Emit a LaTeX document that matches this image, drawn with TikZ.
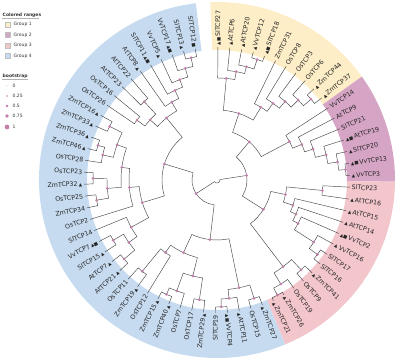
\documentclass[tikz,border=0pt]{standalone}
\usepackage{fontspec}
\setmainfont{DejaVu Sans}
\pgfdeclarelayer{fg}
\pgfsetlayers{main,fg}
\definecolor{gA}{RGB}{253,238,199}
\definecolor{gB}{RGB}{214,164,196}
\definecolor{gC}{RGB}{243,198,204}
\definecolor{gD}{RGB}{199,219,240}
\definecolor{bsc}{RGB}{196,128,170}
\definecolor{brc}{RGB}{70,70,70}
\tikzset{
  br/.style={draw=brc,line width=0.45pt},
  bs/.style={fill=bsc},
  lbl/.style={font=\fontsize{6.3}{7}\selectfont, inner sep=0.3pt, text=black!85},
  leg/.style={font=\fontsize{4.5}{5}\selectfont, inner sep=0.5pt, text=black!80},
}
\newcommand\mk[1]{{\fontsize{4.4}{5}\selectfont #1}}
\def\rl{134.5}
\newcommand\ed[4]{\pgfmathsetmacro\tA{89.6-#1*5.15}\pgfmathsetmacro\tB{89.6-#4*5.15}%
  \draw[br] (\tA:#2pt) -- (\tA:#3pt) arc[start angle=\tA, end angle=\tB, radius=#3pt];}
\newcommand\edn[4]{\ed{#1}{#2}{#3}{#4}\begin{pgfonlayer}{fg}\fill[bs] (\tA:#2pt) circle[radius=1.5pt];\end{pgfonlayer}}
\newcommand\lf[3]{\ed{#1}{133}{#2}{#3}}
\newcommand\lab[3]{\pgfmathsetmacro\tA{89.6-#1*5.15}%
  \ifdim\tA pt>-90pt
    \node[lbl,anchor=west,rotate=\tA] (l#1) at (\tA:\rl pt) {\ifx&#2&\else\mk{#2}\,\fi#3};%
  \else
    \pgfmathsetmacro\tB{\tA+180}%
    \node[lbl,anchor=east,rotate=\tB] (l#1) at (\tA:\rl pt) {#3\ifx&#2&\else\,\mk{#2}\fi};%
  \fi}
\newcommand\band[3]{\pgfmathsetmacro\tA{89.6-(#1-0.5)*5.15}\pgfmathsetmacro\tB{89.6-(#2+0.5)*5.15}%
  \fill[#3] (\tA:130pt) arc[start angle=\tA,end angle=\tB,radius=130pt] -- (\tB:178pt) arc[start angle=\tB,end angle=\tA,radius=178pt] -- cycle;}
\begin{document}
\begin{tikzpicture}[x=1pt,y=1pt]
\useasboundingbox (-217,-182) rectangle (183,180);
% colored ranges
\band{0}{10}{gA}
\band{11}{17}{gB}
\band{18}{30}{gC}
\band{31}{68}{gD}
% internal branches
\edn{15.70}{30}{3}{30.8}
\edn{45.9}{25}{3}{30.8}
\edn{7.719}{50}{30}{15.70}
\edn{23.68}{55}{30}{15.70}
\edn{3.453}{70}{50}{7.719}
\edn{11.984}{82}{50}{7.719}
\edn{0.9375}{102}{70}{3.453}
\edn{1.875}{110}{102}{0.9375}
\edn{2.75}{117}{110}{1.875}
\edn{3.5}{127}{117}{2.75}
\edn{5.96875}{85}{70}{3.453}
\edn{6.9375}{95}{85}{5.96875}
\edn{7.875}{104}{95}{6.9375}
\edn{8.75}{114}{104}{7.875}
\edn{9.5}{124}{114}{8.75}
\edn{12.96875}{92}{82}{11.984}
\edn{13.9375}{101}{92}{12.96875}
\edn{14.875}{112}{101}{13.9375}
\edn{15.75}{122}{112}{14.875}
\edn{16.5}{129}{122}{15.75}
\edn{19.73}{70}{55}{23.68}
\edn{18.5}{106}{70}{19.73}
\edn{20.97}{80}{70}{19.73}
\edn{21.9375}{86}{80}{20.97}
\edn{22.875}{92}{86}{21.9375}
\edn{23.75}{115}{92}{22.875}
\edn{24.5}{125}{115}{23.75}
\edn{27.625}{109}{55}{23.68}
\edn{26.5}{123}{109}{27.625}
\edn{28.75}{122}{109}{27.625}
\edn{29.5}{130}{122}{28.75}
\edn{36.156}{60}{25}{45.9}
\edn{32.625}{110}{60}{36.156}
\edn{31.5}{124}{110}{32.625}
\edn{33.75}{119}{110}{32.625}
\edn{34.5}{127}{119}{33.75}
\edn{39.6875}{80}{60}{36.156}
\edn{37.625}{99}{80}{39.6875}
\edn{36.5}{121}{99}{37.625}
\edn{38.75}{118}{99}{37.625}
\edn{39.5}{125}{118}{38.75}
\edn{41.75}{89}{80}{39.6875}
\edn{42.5}{118}{89}{41.75}
\edn{55.65}{55}{25}{45.9}
\edn{49.078}{78}{55}{55.65}
\edn{46.75}{98}{78}{49.078}
\edn{45.5}{108}{98}{46.75}
\edn{44.5}{122}{108}{45.5}
\edn{46.5}{120}{108}{45.5}
\edn{51.406}{88}{78}{49.078}
\edn{53.8125}{96}{88}{51.406}
\edn{51.5}{110}{96}{53.8125}
\edn{50.5}{122}{110}{51.5}
\edn{52.5}{124}{110}{51.5}
\edn{56.125}{106}{96}{53.8125}
\edn{54.75}{117}{106}{56.125}
\edn{55.5}{124}{117}{54.75}
\edn{57.5}{120}{106}{56.125}
\edn{62.23}{80}{55}{55.65}
\edn{60.5}{90}{80}{62.23}
\edn{59.5}{100}{90}{60.5}
\edn{61.5}{107}{90}{60.5}
\edn{63.97}{90}{80}{62.23}
\edn{64.94}{99}{90}{63.97}
\edn{65.875}{107}{99}{64.94}
\edn{66.75}{116}{107}{65.875}
\edn{67.5}{125}{116}{66.75}
% leaves
\lf{0}{102}{0.9375}\lf{1}{110}{1.875}\lf{2}{117}{2.75}\lf{3}{127}{3.5}\lf{4}{127}{3.5}
\lf{5}{85}{5.96875}\lf{6}{95}{6.9375}\lf{7}{104}{7.875}\lf{8}{114}{8.75}\lf{9}{124}{9.5}\lf{10}{124}{9.5}
\lf{11}{82}{11.984}\lf{12}{92}{12.96875}\lf{13}{101}{13.9375}\lf{14}{112}{14.875}\lf{15}{122}{15.75}\lf{16}{129}{16.5}\lf{17}{129}{16.5}
\lf{18}{106}{18.5}\lf{19}{106}{18.5}\lf{20}{80}{20.97}\lf{21}{86}{21.9375}\lf{22}{92}{22.875}\lf{23}{115}{23.75}
\lf{24}{125}{24.5}\lf{25}{125}{24.5}\lf{26}{123}{26.5}\lf{27}{123}{26.5}\lf{28}{122}{28.75}\lf{29}{130}{29.5}\lf{30}{130}{29.5}
\lf{31}{124}{31.5}\lf{32}{124}{31.5}\lf{33}{119}{33.75}\lf{34}{127}{34.5}\lf{35}{127}{34.5}
\lf{36}{121}{36.5}\lf{37}{121}{36.5}\lf{38}{118}{38.75}\lf{39}{125}{39.5}\lf{40}{125}{39.5}
\lf{41}{89}{41.75}\lf{42}{118}{42.5}\lf{43}{118}{42.5}
\lf{44}{122}{44.5}\lf{45}{122}{44.5}\lf{46}{120}{46.5}\lf{47}{120}{46.5}\lf{48}{98}{46.75}
\lf{49}{88}{51.406}\lf{50}{122}{50.5}\lf{51}{122}{50.5}\lf{52}{124}{52.5}\lf{53}{124}{52.5}
\lf{54}{117}{54.75}\lf{55}{124}{55.5}\lf{56}{124}{55.5}\lf{57}{120}{57.5}\lf{58}{120}{57.5}
\lf{59}{100}{59.5}\lf{60}{100}{59.5}\lf{61}{107}{61.5}\lf{62}{107}{61.5}
\lf{63}{90}{63.97}\lf{64}{99}{64.94}\lf{65}{107}{65.875}\lf{66}{116}{66.75}\lf{67}{125}{67.5}\lf{68}{125}{67.5}
% labels
\lab{0}{▲■}{SlTCP27}
\lab{1}{▲}{AtTCP6}
\lab{2}{▲}{AtTCP20}
\lab{3}{▲}{VvTCP12}
\lab{4}{▲■}{SlTCP18}
\lab{5}{}{ZmTCP31}
\lab{6}{}{OsTCP8}
\lab{7}{}{OsTCP3}
\lab{8}{}{OsTCP6}
\lab{9}{▲}{ZmTCP44}
\lab{10}{▲}{ZmTCP37}
\lab{11}{}{VvTCP14}
\lab{12}{}{AtTCP9}
\lab{13}{}{SlTCP21}
\lab{14}{▲■}{AtTCP19}
\lab{15}{▲}{SlTCP20}
\lab{16}{▲■}{VvTCP13}
\lab{17}{▲}{VvTCP3}
\lab{18}{}{SlTCP23}
\lab{19}{▲}{AtTCP16}
\lab{20}{▲}{AtTCP15}
\lab{21}{▲}{AtTCP14}
\lab{22}{▲■}{VvTCP2}
\lab{23}{▲}{VvTCP16}
\lab{24}{}{SlTCP17}
\lab{25}{}{SlTCP16}
\lab{26}{▲}{ZmTCP41}
\lab{27}{}{OsTCP9}
\lab{28}{}{OsTCP19}
\lab{29}{▲}{ZmTCP26}
\lab{30}{▲}{ZmTCP21}
\lab{31}{▲}{ZmTCP27}
\lab{32}{}{OsTCP15}
\lab{33}{▲}{AtTCP11}
\lab{34}{▲■}{VvTCP4}
\lab{35}{}{SlTCP19}
\lab{36}{▲}{ZmTCP29}
\lab{37}{}{OsTCP17}
\lab{38}{}{OsTCP7}
\lab{39}{▲}{ZmTCP40}
\lab{40}{▲}{ZmTCP15}
\lab{41}{}{OsTCP12}
\lab{42}{▲}{ZmTCP19}
\lab{43}{}{OsTCP11}
\lab{44}{▲}{AtTCP21}
\lab{45}{▲}{AtTCP7}
\lab{46}{▲}{SlTCP15}
\lab{47}{▲■}{VvTCP7}
\lab{48}{}{SlTCP14}
\lab{49}{}{OsTCP2}
\lab{50}{}{ZmTCP34}
\lab{51}{}{OsTCP25}
\lab{52}{▲}{ZmTCP32}
\lab{53}{}{OsTCP23}
\lab{54}{}{OsTCP28}
\lab{55}{▲}{ZmTCP46}
\lab{56}{▲}{ZmTCP36}
\lab{57}{▲}{ZmTCP33}
\lab{58}{▲}{ZmTCP16}
\lab{59}{}{OsTCP26}
\lab{60}{}{OsTCP16}
\lab{61}{}{AtTCP23}
\lab{62}{}{AtTCP22}
\lab{63}{▲}{AtTCP8}
\lab{64}{▲■}{SlTCP11}
\lab{65}{▲}{VvTCP5}
\lab{66}{▲■}{VvTCP17}
\lab{67}{▲}{SlTCP13}
\lab{68}{■}{SlTCP12}
% legend: colored ranges
\fill[white] (-216,170) rectangle (-177,117);
\node[leg,font=\bfseries\fontsize{4.5}{5}\selectfont,anchor=west] (lt1) at (-215,165) {Colored ranges};
\draw[black!30,line width=0.3pt] (-215,161.5) -- (-178,161.5);
\foreach \y/\c/\t [count=\k] in {155.5/gA/Group 1,145/gB/Group 2,134.5/gC/Group 3,124/gD/Group 4}{
  \filldraw[fill=\c,draw=black!25,line width=0.3pt] (-212,\y-2.5) rectangle (-207,\y+2.5);
  \node[leg,anchor=west] (lg\k) at (-204,\y) {\t};
}
% legend: bootstrap
\fill[white] (-216,110) rectangle (-179,47);
\node[leg,font=\bfseries\fontsize{4.5}{5}\selectfont,anchor=west] (lt2) at (-215,104) {bootstrap};
\draw[black!30,line width=0.3pt] (-215,100.5) -- (-189,100.5);
\foreach \y/\r/\t [count=\k] in {94/0.4/0,84/0.9/0.25,74/1.4/0.5,64/1.9/0.75,53/2.4/1}{
  \fill[bsc] (-210,\y) circle[radius=\r];
  \node[leg,anchor=west] (lb\k) at (-205,\y) {\t};
}
\end{tikzpicture}
\end{document}
